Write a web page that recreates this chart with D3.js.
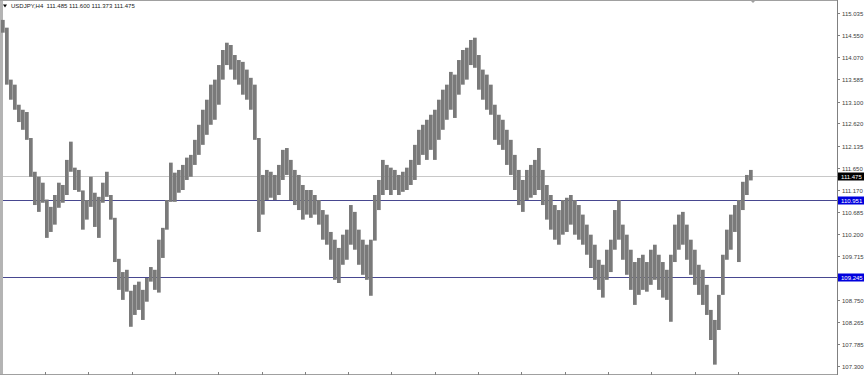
<!DOCTYPE html>
<html>

<head>
    <script src="https://cdnjs.cloudflare.com/ajax/libs/d3/7.8.5/d3.min.js"></script>
    <style>
        body { margin: 0; background: #fff; }
        svg { display: block; }
    </style>
</head>

<body>
    <script>
        var symbol = 'USDJPY,H4';
        var lastBar = [111.485, 111.600, 111.373, 111.475]; // open high low close

        // bar highs and lows, read left to right off the chart
        var highs = [
            114.89, 114.72, 113.58, 113.47, 113.03, 112.92, 112.87, 112.30, 111.56, 111.45,
            111.32, 110.95, 110.79, 111.05, 111.32, 111.27, 111.82, 112.22, 111.65, 111.60,
            111.15, 110.94, 111.45, 111.10, 111.01, 111.32, 111.56, 111.05, 110.55, 109.65,
            109.36, 109.41, 108.95, 109.08, 109.15, 108.97, 109.23, 109.47, 109.41, 110.07,
            110.33, 110.94, 111.76, 111.54, 111.60, 111.71, 111.87, 111.93, 112.26, 112.59,
            112.92, 113.14, 113.47, 113.58, 113.90, 114.23, 114.39, 114.34, 114.12, 114.01,
            113.97, 113.80, 113.62, 113.47, 112.30, 111.49, 111.60, 111.56, 111.49, 111.71,
            112.04, 112.08, 111.82, 111.60, 111.49, 111.27, 111.16, 111.16, 111.05, 110.94,
            110.72, 110.62, 110.24, 110.07, 109.89, 110.18, 110.29, 110.83, 110.68, 110.29,
            110.07, 109.96, 110.07, 111.05, 111.38, 111.82, 111.71, 111.65, 111.60, 111.49,
            111.56, 111.65, 111.82, 112.15, 112.48, 112.59, 112.70, 112.81, 112.92, 113.14,
            113.36, 113.47, 113.75, 113.69, 114.01, 114.23, 114.28, 114.45, 114.50, 114.12,
            113.80, 113.69, 113.47, 113.03, 112.81, 112.70, 112.48, 112.26, 111.93, 111.60,
            111.38, 111.60, 111.71, 111.82, 112.08, 111.60, 111.27, 111.05, 110.83, 110.72,
            110.94, 110.99, 111.05, 110.94, 110.83, 110.62, 110.40, 110.18, 109.96, 109.63,
            109.52, 109.85, 110.07, 110.72, 110.94, 110.40, 110.18, 109.85, 109.58, 109.67,
            109.74, 109.58, 109.85, 109.96, 109.74, 109.58, 109.41, 109.74, 110.40, 110.62,
            110.68, 110.40, 110.07, 109.85, 109.52, 109.41, 109.08, 108.53, 108.31, 108.86,
            109.74, 110.29, 110.62, 110.83, 110.94, 111.34, 111.49, 111.60
        ];
        var lows = [
            114.61, 113.47, 113.14, 112.92, 112.65, 112.48, 112.26, 111.45, 110.83, 110.68,
            110.88, 110.11, 110.24, 110.40, 110.77, 110.88, 111.05, 111.56, 111.16, 111.12,
            110.29, 110.51, 110.79, 110.35, 110.11, 110.88, 111.01, 110.51, 109.58, 108.97,
            108.75, 108.93, 108.16, 108.42, 108.53, 108.31, 108.71, 109.15, 108.97, 108.91,
            109.67, 110.29, 110.90, 110.90, 111.10, 111.16, 111.38, 111.45, 111.71, 111.93,
            112.15, 112.37, 112.59, 112.70, 113.03, 113.58, 113.90, 113.80, 113.58, 113.47,
            113.25, 113.14, 112.92, 112.26, 110.24, 110.62, 110.94, 110.99, 110.94, 111.05,
            111.38, 111.49, 110.94, 110.83, 110.72, 110.51, 110.62, 110.55, 110.62, 110.40,
            110.07, 109.96, 109.63, 109.19, 109.12, 109.52, 109.63, 109.96, 109.85, 109.52,
            109.30, 109.19, 108.84, 110.05, 110.72, 111.05, 111.16, 111.05, 111.16, 111.05,
            111.12, 111.16, 111.27, 111.38, 111.71, 111.93, 111.82, 112.04, 111.82, 112.26,
            112.48, 112.70, 112.92, 112.74, 113.25, 113.47, 113.58, 113.90, 113.84, 113.36,
            113.14, 112.92, 112.81, 112.26, 112.15, 112.04, 111.71, 111.49, 111.16, 110.83,
            110.68, 110.94, 110.99, 111.05, 111.16, 110.83, 110.51, 110.29, 110.07, 109.96,
            110.18, 110.24, 110.40, 110.18, 110.07, 109.96, 109.74, 109.45, 109.19, 108.97,
            108.80, 109.19, 109.36, 109.85, 110.07, 109.63, 109.30, 108.97, 108.64, 108.86,
            108.97, 108.93, 109.08, 109.19, 108.97, 108.80, 108.75, 108.27, 109.58, 109.85,
            109.96, 109.63, 109.30, 109.08, 108.86, 108.64, 108.42, 107.87, 107.33, 108.09,
            108.86, 109.63, 109.85, 110.24, 109.58, 110.72, 111.05, 111.37
        ];

        // price scale labels on the right
        var priceTicks = [115.035, 114.550, 114.070, 113.585, 113.100, 112.620, 112.135, 111.650,
            111.170, 110.685, 110.200, 109.715, 108.750, 108.265, 107.785, 107.300];

        // horizontal lines drawn on the chart
        var levels = [110.951, 109.245];

        var width = 865,
            height = 376,
            axisX = 837,
            bottomY = 374;

        var svg = d3.select('body')
            .append('svg')
            .attr('width', width)
            .attr('height', height)
            .style('font-family', '"Liberation Sans", Arial, sans-serif');

        var x = d3.scaleLinear()
            .domain([0, highs.length - 1])
            .range([3, 751]);

        var y = d3.scaleLinear()
            .domain([107.300, 115.035])
            .range([366, 13.3]);

        // time ticks along the bottom, labels fall off the picture
        var t = d3.scaleLinear()
            .domain([0, 1])
            .range([1.7, 45]);

        // frame
        svg.append('rect')
            .attr('x', 0)
            .attr('y', 0)
            .attr('width', 3)
            .attr('height', bottomY)
            .style('fill', '#b4b4b4');

        svg.append('line')
            .attr('x1', 0).attr('x2', axisX)
            .attr('y1', 0.5).attr('y2', 0.5)
            .style('stroke', '#a0a0a0');

        svg.append('line')
            .attr('x1', 0).attr('x2', axisX)
            .attr('y1', bottomY + 0.5).attr('y2', bottomY + 0.5)
            .style('stroke', '#a0a0a0');

        svg.append('line')
            .attr('x1', axisX + 0.5).attr('x2', axisX + 0.5)
            .attr('y1', 0).attr('y2', bottomY + 1)
            .style('stroke', '#808080');

        svg.selectAll('.tt')
            .data(d3.range(1, 18))
            .enter()
            .append('line')
            .attr('class', 'tt')
            .attr('x1', function(d) { return Math.round(t(d)) + 0.5; })
            .attr('x2', function(d) { return Math.round(t(d)) + 0.5; })
            .attr('y1', bottomY - 2)
            .attr('y2', bottomY + 1)
            .style('stroke', '#808080');

        // bid line
        svg.append('line')
            .attr('x1', 3).attr('x2', axisX)
            .attr('y1', Math.round(y(lastBar[3])) + 0.5)
            .attr('y2', Math.round(y(lastBar[3])) + 0.5)
            .style('stroke', '#c8c8c8');

        // level lines
        svg.selectAll('.lvl')
            .data(levels)
            .enter()
            .append('line')
            .attr('class', 'lvl')
            .attr('x1', 3).attr('x2', axisX)
            .attr('y1', function(d) { return Math.round(y(d)) + 0.5; })
            .attr('y2', function(d) { return Math.round(y(d)) + 0.5; })
            .style('stroke', '#484890');

        // bars
        svg.selectAll('.bar')
            .data(highs)
            .enter()
            .append('rect')
            .attr('class', 'bar')
            .attr('x', function(d, i) { return x(i) - 2; })
            .attr('y', function(d) { return y(d); })
            .attr('width', 3.7)
            .attr('height', function(d, i) { return Math.max(1, y(lows[i]) - y(d)); })
            .style('fill', '#7a7a7a');

        // price axis
        var ticks = svg.selectAll('.pt')
            .data(priceTicks)
            .enter()
            .append('g')
            .attr('class', 'pt')
            .attr('transform', function(d) { return 'translate(0,' + (Math.round(y(d)) + 0.5) + ')'; });

        ticks.append('line')
            .attr('x1', axisX).attr('x2', axisX + 3)
            .style('stroke', '#808080');

        ticks.append('text')
            .attr('x', axisX + 5)
            .attr('dy', '0.35em')
            .style('font-size', '6px')
            .style('fill', '#404040')
            .text(function(d) { return d.toFixed(3); });

        // boxed labels: levels in blue, bid in black
        var boxes = levels.map(function(d) { return { v: d, c: '#0000dd' }; })
            .concat([{ v: lastBar[3], c: '#000' }]);

        var bx = svg.selectAll('.bx')
            .data(boxes)
            .enter()
            .append('g')
            .attr('class', 'bx')
            .attr('transform', function(d) { return 'translate(0,' + (Math.round(y(d.v)) + 0.5) + ')'; });

        bx.append('rect')
            .attr('x', axisX + 1)
            .attr('y', -4)
            .attr('width', 26)
            .attr('height', 8)
            .style('fill', function(d) { return d.c; });

        bx.append('text')
            .attr('x', axisX + 4)
            .attr('dy', '0.35em')
            .style('font-size', '6px')
            .style('fill', '#fff')
            .text(function(d) { return d.v.toFixed(3); });

        // header
        svg.append('path')
            .attr('d', 'M3,4.5L7,4.5L5,7.5Z')
            .style('fill', '#000');

        svg.append('text')
            .attr('x', 11)
            .attr('y', 8)
            .style('font-size', '6px')
            .style('fill', '#202020')
            .attr('xml:space', 'preserve')
            .text(symbol + '  ' + lastBar.map(function(d) { return d.toFixed(3); }).join(' '));

        // chart shift marker
        svg.append('path')
            .attr('d', 'M750,0L756,0L753,3Z')
            .style('fill', '#a0a0a0');
    </script>
</body>

</html>
